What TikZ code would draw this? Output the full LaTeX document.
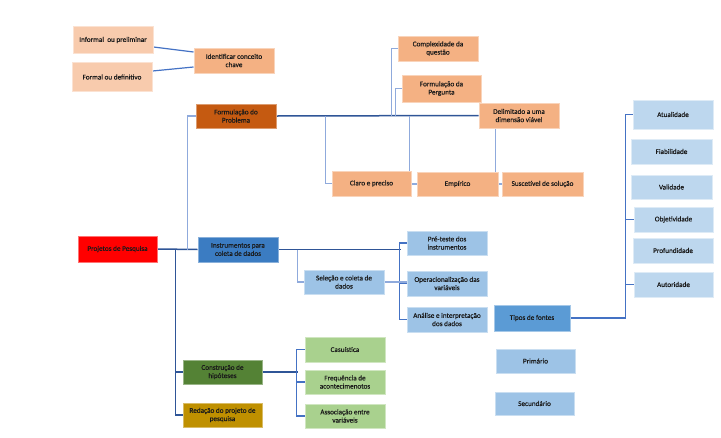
\documentclass[tikz,border=0pt]{standalone}
\usepackage{fontspec}
\setmainfont[FakeBold=0.35]{Carlito}
\usetikzlibrary{backgrounds}
\definecolor{peach}{HTML}{F4B183}
\definecolor{lpeach}{HTML}{F8CBAD}
\definecolor{rust}{HTML}{C55A11}
\definecolor{lblue}{HTML}{9DC3E6}
\definecolor{llblue}{HTML}{BDD7EE}
\definecolor{mblue}{HTML}{5B9BD5}
\definecolor{dblue}{HTML}{3B7CC2}
\definecolor{lgreen}{HTML}{A9D18E}
\definecolor{dgreen}{HTML}{548235}
\definecolor{gold}{HTML}{BF9000}
\definecolor{lnd}{HTML}{2F5597}
\definecolor{lnm}{HTML}{4472C4}
\definecolor{lnl}{HTML}{8FAADC}
\definecolor{txt}{HTML}{1A1A1A}
\tikzset{
  bx/.style={rectangle, inner sep=1pt, align=center, text=txt,
     font=\fontsize{7.2}{8.2}\selectfont, line width=1pt},
  bpeach/.style={bx, fill=peach, draw=peach!55!white},
  blpeach/.style={bx, fill=lpeach, draw=lpeach!55!white},
  brust/.style={bx, fill=rust, draw=rust!60!white},
  blblue/.style={bx, fill=lblue, draw=lblue!55!white},
  bllblue/.style={bx, fill=llblue, draw=llblue!50!white},
  bmblue/.style={bx, fill=mblue, draw=mblue!55!white},
  bdblue/.style={bx, fill=dblue, draw=dblue!60!white},
  blgreen/.style={bx, fill=lgreen, draw=lgreen!55!white},
  bdgreen/.style={bx, fill=dgreen, draw=dgreen!60!white},
  bgold/.style={bx, fill=gold, draw=gold!60!white},
  bred/.style={bx, fill=red, draw=red!55!white},
  cdark/.style={draw=lnd, line width=1.5pt},
  cmid/.style={draw=lnm, line width=1.2pt},
  clight/.style={draw=lnl, line width=1.5pt},
}
\begin{document}
\begin{tikzpicture}[x=1pt,y=-1pt]
\useasboundingbox (0,0) rectangle (721,437);
% nodes
\node[blpeach, minimum width=80pt, minimum height=27pt] (Informal) at (113,40) {Informal\ \ ou preliminar};
\node[blpeach, minimum width=80pt, minimum height=29pt] (Formal) at (112,77) {Formal ou definitivo};
\node[bpeach, minimum width=80pt, minimum height=25pt] (Identificar) at (234,60.5) {Identificar conceito\\chave};
\node[brust, minimum width=80pt, minimum height=24pt] (FormProb) at (236,116) {Formulação do\\Problema};
\node[bpeach, minimum width=80pt, minimum height=25pt] (Complexidade) at (438,48.5) {Complexidade da\\questão};
\node[bpeach, minimum width=79pt, minimum height=27pt] (FormPerg) at (441.5,88.5) {Formulação da\\Pergunta};
\node[bpeach, minimum width=80pt, minimum height=25pt] (Delimitado) at (519,115.5) {Delimitado a uma\\dimensão viável};
\node[bpeach, minimum width=79pt, minimum height=25pt] (Claro) at (371.5,183.5) {Claro e preciso};
\node[bpeach, minimum width=81pt, minimum height=24pt] (Empirico) at (457.5,184) {Empírico};
\node[bpeach, minimum width=81pt, minimum height=24pt] (Suscetivel) at (542.5,184) {Suscetível de solução};
\node[bred, minimum width=79pt, minimum height=26pt] (Projetos) at (117.5,249) {Projetos de Pesquisa};
\node[bdblue, minimum width=80pt, minimum height=25pt] (Instrumentos) at (238,249.5) {Instrumentos para\\coleta de dados};
\node[blblue, minimum width=80pt, minimum height=24pt] (Selecao) at (344,282) {Seleção e coleta de\\dados};
\node[blblue, minimum width=80pt, minimum height=24pt] (Preteste) at (447,243) {Pré-teste dos\\instrumentos};
\node[blblue, minimum width=80pt, minimum height=25pt] (Operac) at (447,283.5) {Operacionalização das\\variáveis};
\node[blblue, minimum width=80pt, minimum height=25pt] (Analise) at (447,319.5) {Análise e interpretação\\dos dados};
\node[bmblue, minimum width=76pt, minimum height=26pt] (Tipos) at (532,318) {Tipos de fontes};
\node[blblue, minimum width=79pt, minimum height=24pt] (Primario) at (535.5,361) {Primário};
\node[blblue, minimum width=79pt, minimum height=23pt] (Secundario) at (534.5,403.5) {Secundário};
\node[bdgreen, minimum width=79pt, minimum height=24pt] (Construcao) at (222.5,372) {Construção de\\hipóteses};
\node[bgold, minimum width=79pt, minimum height=24pt] (Redacao) at (222.5,415) {Redação do projeto de\\pesquisa};
\node[blgreen, minimum width=80pt, minimum height=25pt] (Casuistica) at (345,349.5) {Casuística};
\node[blgreen, minimum width=80pt, minimum height=24pt] (Frequencia) at (345,382) {Frequência de\\acontecimenotos};
\node[blgreen, minimum width=80pt, minimum height=24pt] (Associacao) at (345,416) {Associação entre\\variáveis};
\node[bllblue, minimum width=80pt, minimum height=29pt] (Atualidade) at (673,114.5) {Atualidade};
\node[bllblue, minimum width=81pt, minimum height=25pt] (Fiabilidade) at (671.5,151.5) {Fiabilidade};
\node[bllblue, minimum width=81pt, minimum height=24pt] (Validade) at (671.5,187) {Validade};
\node[bllblue, minimum width=79pt, minimum height=25pt] (Objetividade) at (673.5,219.5) {Objetividade};
\node[bllblue, minimum width=80pt, minimum height=25pt] (Profundidade) at (673,250.5) {Profundidade};
\node[bllblue, minimum width=79pt, minimum height=25pt] (Autoridade) at (673.5,284.5) {Autoridade};
% connectors
\begin{scope}[on background layer]
\draw[cmid] ([yshift=-7pt]Informal.east) -- ([yshift=8.5pt]Identificar.west);
\draw[cmid] ([yshift=6pt]Formal.east) -- ([yshift=-6.5pt]Identificar.west);
\draw[cdark] (Projetos.east) -- (Instrumentos.west);
\draw[clight] (Instrumentos.west) ++(-10,0) |- (FormProb.west);
\draw[cdark] (Projetos.east) ++(18,0) |- (Construcao.west);
\draw[cdark] (Projetos.east) ++(18,0) |- (Redacao.west);
\draw[cdark] (FormProb.east) -- (Delimitado.west);
\draw[clight] (FormProb.east) ++(115,0) |- (Complexidade.west);
\draw[clight] (FormProb.east) ++(119,0) |- (FormPerg.west);
\draw[clight] (FormProb.east) ++(49,0) |- (Claro.west);
\draw[clight] (FormProb.east) ++(133,0) |- (Empirico.west);
\draw[clight] (FormProb.east) ++(219,0) |- (Suscetivel.west);
\draw[cdark] (Instrumentos.east) -- ++(122,0);
\draw[clight] (Instrumentos.east) ++(19,0) |- (Selecao.west);
\draw[cmid] (Preteste.west) -- ++(-7,0) |- (Analise.west);
\draw[cmid] (Operac.west) -- ++(-7,0);
\draw[clight] (Selecao.east) -- (Selecao.east -| Operac.west);
\draw[cdark] (Construcao.east) -- ++(35,0);
\draw[cmid] (Casuistica.west) -- ++(-8,0) |- (Associacao.west);
\draw[cmid] (Frequencia.west) -- ++(-8,0);
\draw[cmid] (Tipos.east) -| ([xshift=-7pt]Atualidade.west) -- (Atualidade.west);
\draw[cmid] (Objetividade.west) -- ++(-8,0);
\draw[cmid] (Autoridade.west) -- ++(-8,0);
\end{scope}
\end{tikzpicture}
\end{document}
